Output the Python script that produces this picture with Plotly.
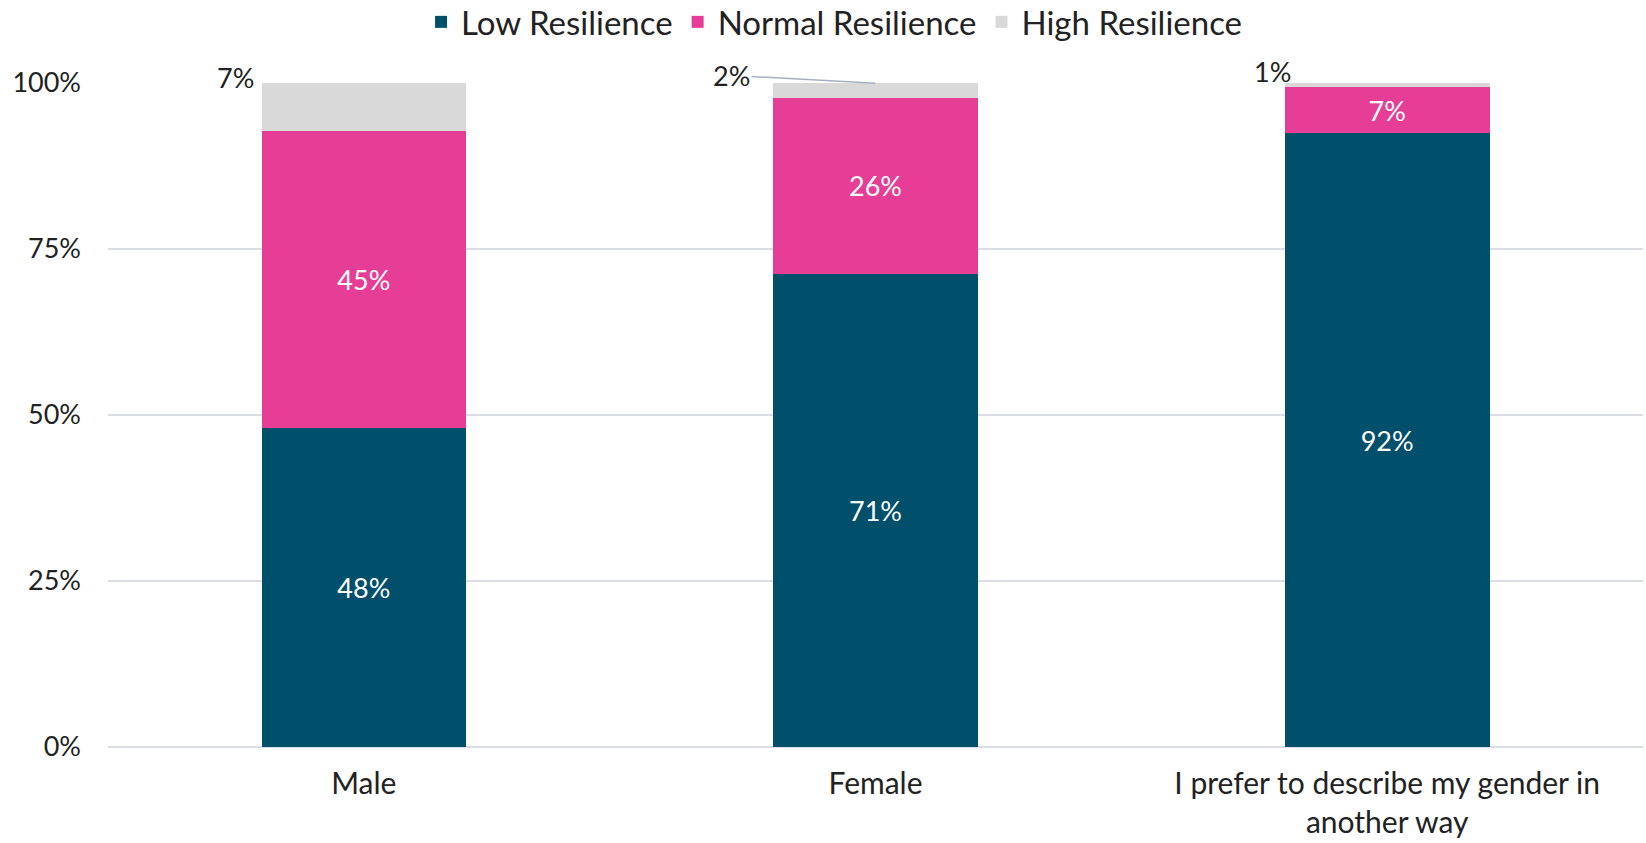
import plotly.graph_objects as go

categories = ["Male", "Female", "I prefer to describe my gender in<br>another way"]
low = [48.0, 71.3, 92.4]
normal = [44.7, 26.4, 7.0]
high = [7.3, 2.3, 0.6]
series_names = ["Low Resilience", "Normal Resilience", "High Resilience"]
colors = ["#00506B", "#E63E96", "#D9D9D9"]
tick_vals = [0, 25, 50, 75, 100]
tick_text = ["0%", "25%", "50%", "75%", "100%"]

FONT = "Lato"
fig = go.Figure()
for name, vals, col, show in [(series_names[0], low, colors[0], True),
                              (series_names[1], normal, colors[1], True),
                              (series_names[2], high, colors[2], False)]:
    fig.add_trace(go.Bar(
        x=categories, y=vals, name=name, marker=dict(color=col, line=dict(width=0)),
        texttemplate="%{y:.0f}%" if show else "",
        textposition="inside", insidetextanchor="middle",
        textfont=dict(color="white", size=27, family=FONT),
        hoverinfo="skip",
    ))

# outside labels for the high resilience segment
totals = [min(a + b + c, 99.95) for a, b, c in zip(low, normal, high)]
offsets = [(-128, 6, False), (-144, -8, True), (-115, 12, False)]
for cat, h, tot, (dx, dy, arrow) in zip(categories, high, totals, offsets):
    if arrow:
        fig.add_annotation(x=cat, y=tot, text=f"{h:.0f}%", showarrow=True,
                           ax=dx, ay=dy, arrowhead=0, arrowwidth=1.5,
                           arrowcolor="#A7B0C3", standoff=0, startstandoff=0,
                           font=dict(size=27, color="#222222", family=FONT))
    else:
        fig.add_annotation(x=cat, y=tot, text=f"{h:.0f}%", showarrow=False,
                           xshift=dx, yshift=dy,
                           font=dict(size=27, color="#222222", family=FONT))

fig.update_layout(
    barmode="stack", bargap=0.6,
    width=1646, height=843,
    margin=dict(l=108, r=3, t=83, b=96, autoexpand=False),
    paper_bgcolor="white", plot_bgcolor="white",
    font=dict(family=FONT, size=27, color="#222222"),
    legend=dict(orientation="h", x=0.473, xanchor="center", y=1.092, yanchor="middle",
                font=dict(size=33, color="#222222", family=FONT), traceorder="normal",
                itemwidth=30, tracegroupgap=0),
    showlegend=True,
)
fig.update_yaxes(range=[0, 100], tickvals=tick_vals, ticktext=tick_text,
                 showgrid=True, gridcolor="#DADDE3", gridwidth=1.5,
                 zeroline=True, zerolinecolor="#DADDE3", zerolinewidth=1.5,
                 ticks="", ticklabelstandoff=26, showline=False)
fig.update_xaxes(showgrid=False, showline=False, ticks="", ticklabelstandoff=16,
                 tickfont=dict(size=30))

fig.write_html("out.html")
